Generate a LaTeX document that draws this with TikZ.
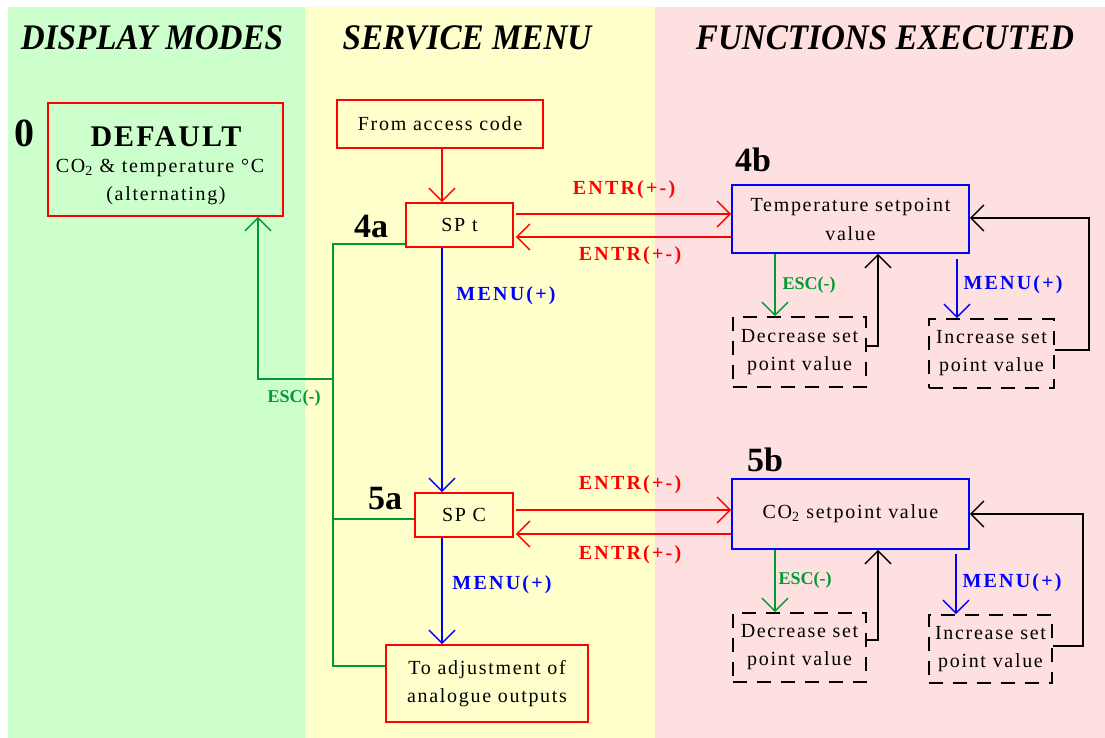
\documentclass[tikz,border=0pt]{standalone}
\usepackage{graphicx}
\usepackage{fontspec}
\setmainfont{Liberation Serif}
\newfontfamily\bxfont{Liberation Serif}[LetterSpace=8.5]
\newfontfamily\lbfont{Liberation Serif}[LetterSpace=11]
\newfontfamily\dffont{Liberation Serif}[LetterSpace=7]
\usetikzlibrary{arrows.meta}
\definecolor{bggreen}{RGB}{204,255,204}
\definecolor{bgyellow}{RGB}{255,255,204}
\definecolor{bgpink}{RGB}{255,224,224}
\definecolor{grn}{RGB}{0,153,51}
\newcommand\hdrtext[1]{\scalebox{0.92}[1]{\fontsize{36}{40}\selectfont\bfseries\itshape #1}}
\tikzset{
  rbox/.style={draw=red, line width=1.6pt, inner sep=0pt, align=center, font=\bxfont\fontsize{20}{28}\selectfont},
  bbox/.style={draw=blue, line width=1.6pt, inner sep=0pt, align=center, font=\bxfont\fontsize{20}{29}\selectfont},
  dbox/.style={draw=black, line width=1.6pt, dash pattern=on 14pt off 10pt, inner sep=0pt, align=center, font=\bxfont\fontsize{20}{28}\selectfont},
  txt/.style={inner sep=0pt, align=center, font=\bxfont\fontsize{20}{28}\selectfont},
  num/.style={inner sep=0pt, font=\bfseries\fontsize{34}{36}\selectfont},
  lab/.style={inner sep=0pt, font=\lbfont\bfseries\fontsize{20}{24}\selectfont},
  esclab/.style={inner sep=0pt, text=grn, font=\bfseries\fontsize{18}{20}\selectfont},
  hdr/.style={inner sep=0pt},
  conn/.style={line width=1.5pt},
}
\begin{document}
\begin{tikzpicture}[x=1pt,y=-1pt,>={Straight Barb[length=13pt,width=26pt]}]
\useasboundingbox (0,0) rectangle (1105,738);
\fill[bggreen] (8,7) rectangle (305,738);
\fill[bgyellow] (305,7) rectangle (655,738);
\fill[bgpink] (655,7) rectangle (1105,738);

% headers
\node[hdr] (h1) at (152,38) {\hdrtext{DISPLAY MODES}};
\node[hdr] (h2) at (467,38) {\hdrtext{SERVICE MENU}};
\node[hdr] (h3) at (885,38) {\hdrtext{FUNCTIONS EXECUTED}};

% default
\node[rbox, minimum width=235pt, minimum height=113pt] (def) at (165.5,159.5) {};
\node[inner sep=0pt, font=\dffont\bfseries\fontsize{30}{32}\selectfont] (deft) at (166,137) {DEFAULT};
\node[txt] (defs) at (160,168) {CO\textsubscript{2} \& temperature °C};
\node[txt] (defa) at (166,196) {(alternating)};
\node[num, font=\bfseries\fontsize{40}{42}\selectfont] (n0) at (24,133) {0};

% service menu
\node[rbox, minimum width=206pt, minimum height=48pt] (fac) at (440,124) {From access code};
\node[rbox, minimum width=107pt, minimum height=44pt] (spt) at (459.5,225) {SP t};
\node[rbox, minimum width=98pt, minimum height=44pt] (spc) at (464,515) {SP C};
\node[rbox, minimum width=202pt, minimum height=77pt] (adj) at (487,683.5) {To adjustment of\\analogue outputs};
\node[num] (n4a) at (371,226) {4a};
\node[num] (n5a) at (385,499) {5a};

% functions
\node[bbox, minimum width=237pt, minimum height=68pt] (tb) at (850.5,219) {Temperature setpoint\\value};
\node[bbox, minimum width=237pt, minimum height=70pt] (fb) at (850.5,514) {CO\textsubscript{2} setpoint value};
\node[dbox, minimum width=133pt, minimum height=70pt] (dec1) at (799.5,352) {Decrease set\\point value};
\node[dbox, minimum width=125pt, minimum height=69pt] (inc1) at (991.5,353.5) {Increase set\\point value};
\node[dbox, minimum width=133pt, minimum height=69pt] (dec2) at (799.5,647.5) {Decrease set\\point value};
\node[dbox, minimum width=123pt, minimum height=68pt] (inc2) at (990.5,649) {Increase set\\point value};
\node[num] (n4b) at (753,160) {4b};
\node[num] (n5b) at (765,460) {5b};

% connectors service menu
\draw[conn, red, ->] ([xshift=2pt]fac.south) -- ([xshift=-17.5pt]spt.north);
\draw[conn, blue, ->] ([xshift=-17.5pt]spt.south) -- ([xshift=-22pt]spc.north);
\draw[conn, blue, ->] ([xshift=-22pt]spc.south) -- ([xshift=-45pt]adj.north);
\node[lab, text=blue] (m1) at (506,296) {MENU(+)};
\node[lab, text=blue] (m2) at (502,585) {MENU(+)};

\draw[conn, red, ->] ([xshift=2pt,yshift=11pt]spt.east) -- ([yshift=11pt]spt.east -| tb.west);
\draw[conn, red, ->] ([yshift=-12pt]spt.east -| tb.west) -- ([xshift=2pt,yshift=-12pt]spt.east);
\draw[conn, red, ->] ([xshift=2pt,yshift=5pt]spc.east) -- ([yshift=5pt]spc.east -| fb.west);
\draw[conn, red, ->] ([yshift=-19pt]spc.east -| fb.west) -- ([xshift=2pt,yshift=-19pt]spc.east);
\node[lab, text=red] (e1) at (624,190) {ENTR(+-)};
\node[lab, text=red] (e2) at (630,256) {ENTR(+-)};
\node[lab, text=red] (e3) at (630,485) {ENTR(+-)};
\node[lab, text=red] (e4) at (630,555) {ENTR(+-)};

% green esc lines
\draw[conn, grn] ([yshift=-19pt]spt.west) -- ++(-72,0) |- ([yshift=17.5pt]adj.west);
\draw[conn, grn] ([yshift=-4pt]spc.west) -- ++(-81,0);
\coordinate (escj) at (334,379);
\draw[conn, grn, ->] (escj) -| ([xshift=92.5pt]def.south);
\node[esclab] (esc0) at (294,398) {ESC(-)};

% 4b functions
\draw[conn, grn, ->] ([xshift=-75.5pt]tb.south) -- ([xshift=-24.5pt]dec1.north);
\draw[conn, ->] ([yshift=6pt]dec1.east) -| ([xshift=27.5pt]tb.south);
\draw[conn, blue, ->] ([xshift=106.5pt,yshift=-5pt]tb.south) -- ([xshift=-34.5pt]inc1.north);
\draw[conn, ->] ([yshift=3.5pt]inc1.east) -- ++(34,0) |- ([yshift=1pt]tb.east);
\node[esclab] (esc1) at (809,285) {ESC(-)};
\node[lab, text=blue] (m3) at (1013,285) {MENU(+)};

% 5b functions
\draw[conn, grn, ->] ([xshift=-75.5pt]fb.south) -- ([xshift=-24.5pt]dec2.north);
\draw[conn, ->] ([yshift=7.5pt]dec2.east) -| ([xshift=27.5pt]fb.south);
\draw[conn, blue, ->] ([xshift=105.5pt,yshift=-4pt]fb.south) -- ([xshift=-34.5pt]inc2.north);
\draw[conn, ->] ([yshift=3pt]inc2.east) -- ++(30,0) |- (fb.east);
\node[esclab] (esc2) at (805,580) {ESC(-)};
\node[lab, text=blue] (m4) at (1012,583) {MENU(+)};
\end{tikzpicture}
\end{document}
